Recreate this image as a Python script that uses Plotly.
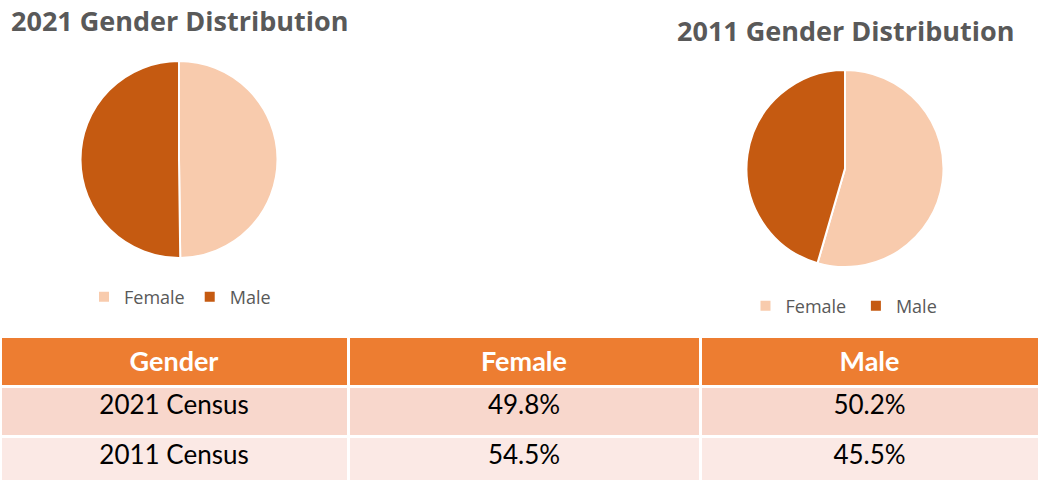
import plotly.graph_objects as go

labels = ["Female", "Male"]
labels_2011 = ["Female ", "Male "]  # distinct keys so the second legend gets its own items
share_2021 = [49.8, 50.2]
share_2011 = [54.5, 45.5]

header = ["Gender", "Female", "Male"]
row_names = ["2021 Census", "2011 Census"]
female_txt = ["49.8%", "54.5%"]
male_txt = ["50.2%", "45.5%"]

pie_colors = ["#F8CBAD", "#C55A11"]
W, H = 1039, 481

fig = go.Figure()

# 2021 pie (left)
fig.add_trace(go.Pie(
    labels=labels, values=share_2021, sort=False, direction="clockwise",
    marker=dict(colors=pie_colors, line=dict(color="white", width=2)),
    textinfo="none", hoverinfo="label+percent",
    domain=dict(x=[79 / W, 279 / W], y=[1 - 258 / H, 1 - 61 / H]),
    legend="legend",
))

# 2011 pie (right)
fig.add_trace(go.Pie(
    labels=labels_2011, values=share_2011, sort=False, direction="clockwise",
    marker=dict(colors=pie_colors, line=dict(color="white", width=2)),
    textinfo="none", hoverinfo="label+percent",
    domain=dict(x=[743 / W, 947 / W], y=[1 - 267 / H, 1 - 70 / H]),
    legend="legend2",
))

# summary table
fig.add_trace(go.Table(
    domain=dict(x=[0, 1], y=[0, 1 - 336 / H]),
    columnwidth=[348, 352, 339],
    header=dict(
        values=["<b>%s</b>" % h for h in header],
        fill_color="#ED7D31",
        line=dict(color="white", width=3),
        font=dict(family="Lato", size=27, color="white"),
        align="center", height=50,
    ),
    cells=dict(
        values=[row_names, female_txt, male_txt],
        fill_color=[["#F8D7CC", "#FBE9E5"]] * 3,
        line=dict(color="white", width=3),
        font=dict(family="Lato", size=26, color="black"),
        align="center", height=50,
    ),
))

title_font = dict(family="Open Sans", size=27, color="#595959")
fig.add_annotation(text="<b>2021 Gender Distribution</b>", x=9 / W, y=1 - 20 / H,
                   xref="paper", yref="paper", xanchor="left", yanchor="middle",
                   showarrow=False, font=title_font)
fig.add_annotation(text="<b>2011 Gender Distribution</b>", x=675 / W, y=1 - 30 / H,
                   xref="paper", yref="paper", xanchor="left", yanchor="middle",
                   showarrow=False, font=title_font)

legend_font = dict(family="Open Sans", size=18, color="#595959")
fig.update_layout(
    width=W, height=H,
    margin=dict(l=0, r=0, t=0, b=0),
    paper_bgcolor="white",
    legend=dict(orientation="h", x=180 / W, y=1 - 297 / H, xanchor="center",
                yanchor="middle", font=legend_font, bgcolor="rgba(0,0,0,0)"),
    legend2=dict(orientation="h", x=846 / W, y=1 - 306 / H, xanchor="center",
                 yanchor="middle", font=legend_font, bgcolor="rgba(0,0,0,0)"),
)

fig.write_html("out.html", config={"displayModeBar": False},
               post_script="document.body.style.margin='0';")
